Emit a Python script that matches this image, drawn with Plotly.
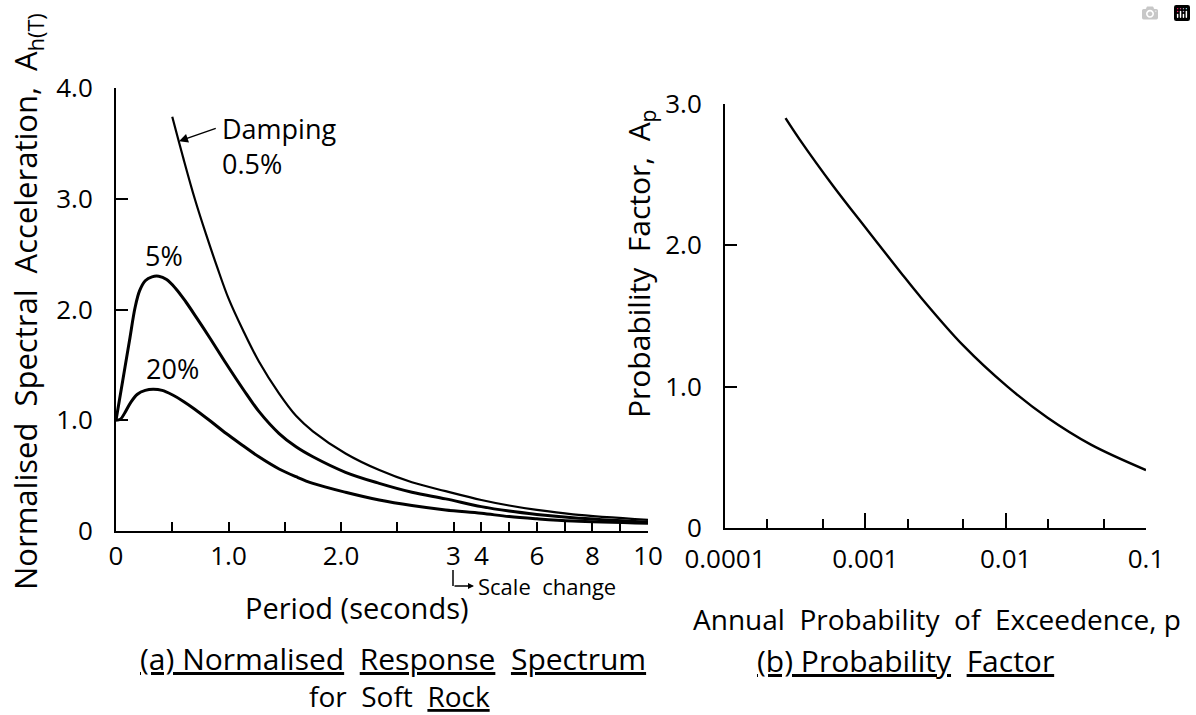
import plotly.graph_objects as go

W, H = 1196, 715
FONT = "Open Sans"

# ---------------- data ----------------
# (a) Normalised response spectrum for soft rock: period T (s) -> A_h(T)
T_damp05 = [0.50, 0.60, 0.70, 0.80, 0.90, 1.00, 1.13, 1.27, 1.45, 1.60, 1.75,
            2.04, 2.34, 2.63, 2.93, 4.0, 5.0, 6.0, 7.3, 10.0]
A_damp05 = [3.74, 3.36, 3.00, 2.68, 2.38, 2.10, 1.81, 1.53, 1.24, 1.04, 0.90,
            0.70, 0.55, 0.44, 0.36, 0.28, 0.23, 0.19, 0.15, 0.10]

T_damp5 = [0.0, 0.06, 0.12, 0.17, 0.21, 0.26, 0.32, 0.38, 0.45, 0.53, 0.62, 0.72,
           0.83, 0.98, 1.13, 1.27, 1.45, 1.60, 1.75, 2.04, 2.34, 2.63, 2.93,
           4.0, 5.0, 6.0, 7.3, 10.0]
A_damp5 = [1.00, 1.36, 1.72, 2.02, 2.17, 2.26, 2.295, 2.30, 2.27, 2.19, 2.07, 1.92,
           1.75, 1.51, 1.28, 1.08, 0.88, 0.76, 0.67, 0.53, 0.43, 0.35, 0.29,
           0.22, 0.18, 0.15, 0.12, 0.08]

T_damp20 = [0.0, 0.04, 0.08, 0.13, 0.19, 0.26, 0.33, 0.41, 0.50, 0.60, 0.70, 0.83,
            0.98, 1.13, 1.27, 1.45, 1.60, 1.75, 2.04, 2.34, 2.63, 2.93,
            4.0, 5.0, 6.0, 7.3, 10.0]
A_damp20 = [1.00, 1.01, 1.07, 1.16, 1.235, 1.27, 1.28, 1.27, 1.23, 1.17, 1.10, 1.00,
            0.88, 0.77, 0.67, 0.56, 0.49, 0.43, 0.35, 0.28, 0.23, 0.19,
            0.16, 0.13, 0.11, 0.09, 0.07]

period_ticks = [0, 0.5, 1.0, 1.5, 2.0, 2.5, 3, 4, 5, 6, 7, 8, 9, 10]
period_labels = ["0", "", "1.0", "", "2.0", "", "3", "4", "", "6", "", "8", "", "10"]
accel_ticks = [0, 1, 2, 3, 4]
accel_labels = ["0", "1.0", "2.0", "3.0", "4.0"]

# (b) Probability factor: annual probability of exceedence p -> A_p
p_values = [0.00027, 0.00034, 0.00059, 0.00103, 0.00178, 0.0024, 0.0050,
            0.0103, 0.0199, 0.0405, 0.1]
Ap_values = [2.90, 2.75, 2.42, 2.11, 1.81, 1.65, 1.29, 1.00, 0.78, 0.59, 0.41]

p_major = [0.0001, 0.001, 0.01, 0.1]
p_major_labels = ["0.0001", "0.001", "0.01", "0.1"]
p_minor = [0.0002, 0.0005, 0.002, 0.005, 0.02, 0.05]
ap_ticks = [0, 1, 2, 3]
ap_labels = ["0", "1.0", "2.0", "3.0"]

# ---------------- broken period scale (scale change at T = 3 s) ----------------
K = 27.9 / 113.0   # compression of the 3-10 s part


def period_axis(t):
    return t if t <= 3 else 3 + (t - 3) * K


def to_axis(ts):
    return [period_axis(t) for t in ts]


def px(x):
    return x / W


def py(y):
    return 1 - y / H


fig = go.Figure()

line_common = dict(color="black", shape="spline", smoothing=1.0)
fig.add_trace(go.Scatter(x=to_axis(T_damp05), y=A_damp05, mode="lines",
                         line=dict(width=2.2, **line_common), xaxis="x", yaxis="y",
                         showlegend=False))
fig.add_trace(go.Scatter(x=to_axis(T_damp5), y=A_damp5, mode="lines",
                         line=dict(width=3, **line_common), xaxis="x", yaxis="y",
                         showlegend=False))
fig.add_trace(go.Scatter(x=to_axis(T_damp20), y=A_damp20, mode="lines",
                         line=dict(width=3, **line_common), xaxis="x", yaxis="y",
                         showlegend=False))
fig.add_trace(go.Scatter(x=p_values, y=Ap_values, mode="lines",
                         line=dict(width=2.4, color="black", shape="spline", smoothing=1.0),
                         xaxis="x2", yaxis="y2", showlegend=False))

tickfont = dict(family=FONT, size=26, color="black")
axis_common = dict(showline=True, linecolor="black", linewidth=2, showgrid=False,
                   zeroline=False, ticks="inside", tickcolor="black", tickwidth=2,
                   tickfont=tickfont, fixedrange=True, automargin=False)

fig.update_layout(
    width=W, height=H,
    margin=dict(l=0, r=0, t=0, b=0, autoexpand=False),
    paper_bgcolor="white", plot_bgcolor="white",
    font=dict(family=FONT, color="black"),
    xaxis=dict(domain=[px(116), px(648)], range=[0, period_axis(10)],
               tickmode="array", tickvals=to_axis(period_ticks), ticktext=period_labels,
               ticklen=9, anchor="y", ticklabelstandoff=1, **axis_common),
    yaxis=dict(domain=[py(531), py(88)], range=[0, 4.0],
               tickmode="array", tickvals=accel_ticks, ticktext=accel_labels,
               ticklen=12, anchor="x", ticklabelstandoff=16, **axis_common),
    xaxis2=dict(domain=[px(725), px(1146)], type="log", range=[-4, -1],
                tickmode="array", tickvals=p_major, ticktext=p_major_labels,
                ticklen=15, anchor="y2", ticklabelstandoff=7,
                minor=dict(tickmode="array", tickvals=p_minor, ticks="inside",
                           ticklen=9, tickcolor="black", tickwidth=2, showgrid=False),
                **axis_common),
    yaxis2=dict(domain=[py(528), py(104)], range=[0, 3.0],
                tickmode="array", tickvals=ap_ticks, ticktext=ap_labels,
                ticklen=12, anchor="x2", ticklabelstandoff=16, **axis_common),
)


def label(x, y, text, size, xanchor="center", yanchor="middle", **kw):
    d = dict(x=x, y=y, text=text, showarrow=False, xanchor=xanchor, yanchor=yanchor,
             font=dict(family=FONT, size=size, color="black"))
    d.update(kw)
    return d


ann = []
# curve labels (data coordinates)
ann.append(label(period_axis(0.425), 2.49, "5%", 27, xref="x", yref="y"))
ann.append(label(period_axis(0.50), 1.47, "20%", 27, xref="x", yref="y"))
ann.append(label(period_axis(0.92), 3.48, "Damping<br>0.5%", 27, xanchor="left",
                 align="left", xref="x", yref="y"))
ann.append(dict(x=period_axis(0.56), y=3.52, xref="x", yref="y",
                ax=period_axis(0.90), ay=3.64, axref="x", ayref="y", text="",
                showarrow=True, arrowhead=2, arrowsize=1.2, arrowwidth=1.5,
                arrowcolor="black"))

# axis titles and captions (paper coordinates)
ann.append(label(px(27), py(302),
                 "Normalised  Spectral  Acceleration,  A<sub>h(T)</sub>", 31,
                 textangle=-90, xref="paper", yref="paper"))
ann.append(label(px(357), py(607), "Period (seconds)", 29,
                 xref="paper", yref="paper"))
ann.append(label(px(393), py(658),
                 "<u>(a) Normalised</u>  <u>Response</u>  <u>Spectrum</u>", 30,
                 xref="paper", yref="paper"))
ann.append(label(px(399), py(696), "for  Soft  <u>Rock</u>", 28,
                 xref="paper", yref="paper"))
ann.append(label(px(476), py(586), "Scale  change", 22, xanchor="left",
                 xref="paper", yref="paper"))
ann.append(dict(x=px(474), y=py(586), xref="paper", yref="paper",
                ax=-21, ay=0, text="",
                showarrow=True, arrowhead=2, arrowsize=0.8, arrowwidth=1.5,
                arrowcolor="black"))

ann.append(label(px(640), py(264), "Probability  Factor,  A<sub>p</sub>", 30,
                 textangle=-90, xref="paper", yref="paper"))
ann.append(label(px(937), py(619), "Annual  Probability  of  Exceedence, p", 28,
                 xref="paper", yref="paper"))
ann.append(label(px(905), py(660), "<u>(b) Probability</u>  <u>Factor</u>", 30,
                 xref="paper", yref="paper"))

fig.update_layout(annotations=ann)

fig.add_shape(type="line", xref="paper", yref="paper",
              x0=px(453), y0=py(570), x1=px(453), y1=py(586),
              line=dict(color="black", width=1.5))

fig.write_html("out.html", post_script="document.body.style.margin='0px';")
